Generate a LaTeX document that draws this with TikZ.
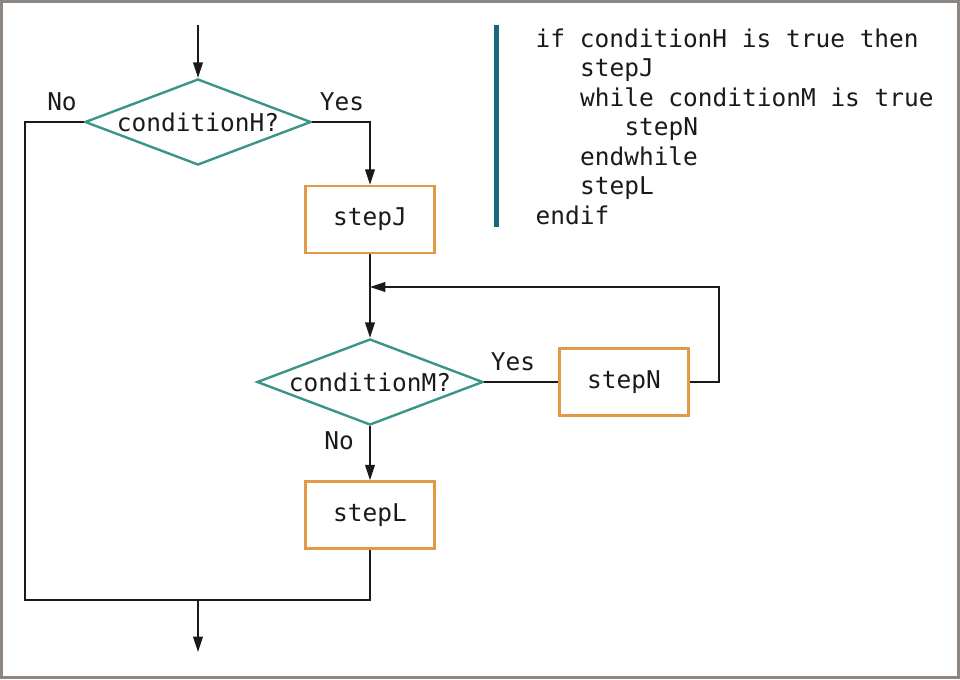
\documentclass[tikz,border=0pt]{standalone}
\usepackage{fontspec}
\setmonofont{DejaVu Sans Mono}
\usetikzlibrary{arrows.meta, shapes.geometric}
\definecolor{dteal}{HTML}{3A9488}
\definecolor{amber}{HTML}{E39A48}
\definecolor{barblue}{HTML}{17697A}
\definecolor{frame}{HTML}{8E8681}
\definecolor{ink}{HTML}{1A1A1A}
\newcommand\codefont{\ttfamily\fontsize{17.4}{20.9}\selectfont}

\begin{document}
\begin{tikzpicture}[x=0.025cm, y=-0.025cm, >={Triangle[length=11pt, width=7pt]},
  line width=1pt, draw=ink,
  decision/.style={diamond, draw=dteal, line width=1.7pt, aspect=2.6, inner sep=0pt,
    minimum width=5.65cm, minimum height=2.15cm, font=\codefont, text=ink},
  stepbox/.style={rectangle, draw=amber, line width=1.8pt, minimum width=3.225cm,
    minimum height=1.675cm, font=\codefont, text=ink},
  tag/.style={font=\codefont, inner sep=0pt, text=ink}]

% Frame
\useasboundingbox (0,0) rectangle (960,679);
\draw[frame, line width=1.5pt] (1.5,1.5) rectangle (958.5,677.5);

% Flowchart nodes
\node[decision] (condH) at (198,122) {conditionH?};
\node[stepbox]  (stepJ) at (370,219.5) {stepJ};
\node[decision] (condM) at (370,382) {conditionM?};
\node[stepbox]  (stepN) at (624,382) {stepN};
\node[stepbox]  (stepL) at (370,515) {stepL};

% Helper points
\coordinate (start)    at (198,25);
\coordinate (loopc)    at (719,287);
\coordinate (loopin)   at (370,287);
\coordinate (nocorner) at (25,600);
\coordinate (merge)    at (198,600);
\coordinate (finish)   at (198,652);

% Branch labels
\node[tag] (noH)  at (62,102)  {No};
\node[tag] (yesH) at (342,102) {Yes};
\node[tag] (yesM) at (513,362) {Yes};
\node[tag] (noM)  at (339,441) {No};

% Connectors
\draw[->] (start) -- (condH);
\draw[->] (condH.east) -| (stepJ.north);
\draw[->] (stepJ) -- (condM);
\draw (condM.east) -- (stepN.west);
\draw[->] (stepN.east) -| (loopc) -- (loopin);
\draw[->] (condM) -- (stepL);
\draw (stepL.south) |- (nocorner) |- (condH.west);
\draw[->] (merge) -- (finish);

% Pseudocode
\draw[barblue, line width=3.5pt] (496.5,25) -- (496.5,227);
\foreach \ind/\txt [count=\i from 0] in {0/if conditionH is true then, 3/stepJ,
    3/while conditionM is true, 6/stepN, 3/endwhile, 3/stepL, 0/endif}
  \node[tag, anchor=base west] (code\i) at (535+\ind*14.8, 47+\i*29.5) {\txt};

\end{tikzpicture}
\end{document}
